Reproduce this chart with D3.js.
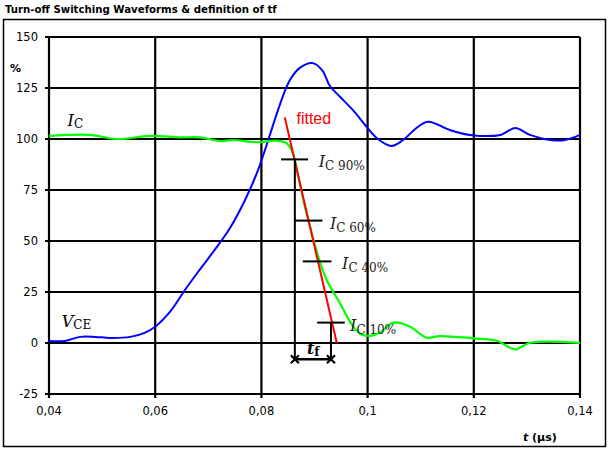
<!DOCTYPE html>
<html>
<head>
<meta charset="utf-8">
<script src="https://cdn.jsdelivr.net/npm/d3@7"></script>
<style>
  body { margin: 0; background: #fff; }
  svg text { font-family: "DejaVu Sans", Verdana, sans-serif; }
  .serif { font-family: "DejaVu Serif", "Liberation Serif", serif; }
</style>
</head>
<body>
<div id="chart"></div>
<script>
// values (t in µs, value in %)
var vceT = [0.040, 0.043, 0.0458, 0.0487, 0.0515, 0.0553, 0.058, 0.060, 0.063, 0.0656, 0.0684, 0.0713, 0.074, 0.0769,
            0.0794, 0.0816, 0.0835, 0.0854, 0.0873, 0.0897, 0.0915, 0.0929, 0.0948, 0.0973, 0.0998, 0.1017, 0.1045,
            0.1067, 0.1092, 0.1114, 0.1155, 0.1193, 0.125, 0.1278, 0.1306, 0.1344, 0.1372, 0.140],
    vceV = [1, 1, 3, 3, 2.5, 3, 5, 8, 16, 26, 36, 46, 56, 70,
            85, 102, 117, 129, 135, 137.2, 133.5, 126, 120.7, 114, 106, 100.5, 96.6,
            99.5, 105.4, 108.5, 104.4, 102, 102, 105.4, 102, 99.5, 99.5, 102],
    icT = [0.040, 0.0477, 0.0527, 0.059, 0.0647, 0.0684, 0.0722, 0.0747, 0.0791, 0.0829, 0.0848, 0.0857, 0.0863,
           0.0879, 0.0895, 0.0907, 0.0923, 0.0948, 0.0967, 0.0986, 0.1005, 0.1023, 0.1049, 0.108, 0.1111, 0.1136,
           0.1199, 0.1243, 0.1278, 0.1306, 0.140],
    icV = [101.5, 102, 100, 101.5, 100.8, 100.8, 99, 99.5, 98.4, 99.2, 97.9, 94.6, 89.7,
           70, 53.8, 42.3, 30.9, 19.5, 10.4, 4.5, 3.5, 5, 10, 8, 2.6, 3.4,
           2.3, 1.1, -3.1, 0.1, 0],
    fitT = [0.0844, 0.0942],
    fitV = [110.6, 0],
    markLevels = [90, 60, 40, 10],
    markStart = [0.0837, 0.0863, 0.0878, 0.0905],
    markEnd = [0.0888, 0.0915, 0.0932, 0.0957],
    markLabelT = [0.0908, 0.0929, 0.0952, 0.0967],
    tfStart = 0.0863, tfEnd = 0.0931, tfLevel = -8,
    xTicks = [0.04, 0.06, 0.08, 0.10, 0.12, 0.14],
    yTicks = [-25, 0, 25, 50, 75, 100, 125, 150];

var W = 608, H = 450,
    margin = { top: 37, right: 28, bottom: 56, left: 49 },
    width = W - margin.left - margin.right,
    height = H - margin.top - margin.bottom;

var svg = d3.select("#chart").append("svg")
    .attr("width", W)
    .attr("height", H);

svg.append("rect")
    .attr("x", 3.5).attr("y", 19.5)
    .attr("width", 602).attr("height", 427)
    .attr("fill", "none").attr("stroke", "#000").attr("stroke-width", 1.5);

svg.append("text")
    .attr("x", 5).attr("y", 12.5)
    .style("font-size", "10.2px").style("font-weight", "bold")
    .text("Turn-off Switching Waveforms & definition of tf");

var g = svg.append("g")
    .attr("transform", "translate(" + margin.left + "," + margin.top + ")");

var x = d3.scaleLinear().domain([0.04, 0.14]).range([0, width]),
    y = d3.scaleLinear().domain([-25, 150]).range([height, 0]);

var comma = d3.formatLocale({ decimal: ",", thousands: ".", grouping: [3], currency: ["", ""] }).format("~g");

// grid
g.selectAll(".hgrid").data(yTicks).enter().append("line")
    .attr("x1", -4).attr("x2", width)
    .attr("y1", function(d) { return y(d); }).attr("y2", function(d) { return y(d); })
    .attr("stroke", "#000").attr("stroke-width", 2.2);

g.selectAll(".vgrid").data(xTicks).enter().append("line")
    .attr("y1", 0).attr("y2", height + 4)
    .attr("x1", function(d) { return x(d); }).attr("x2", function(d) { return x(d); })
    .attr("stroke", "#000").attr("stroke-width", 2.2);

g.selectAll(".ylab").data(yTicks).enter().append("text")
    .attr("x", -11).attr("y", function(d) { return y(d); })
    .attr("dy", "0.36em")
    .style("text-anchor", "end").style("font-size", "11.5px")
    .text(function(d) { return d; });

g.selectAll(".xlab").data(xTicks).enter().append("text")
    .attr("x", function(d) { return x(d); }).attr("y", height + 21)
    .style("text-anchor", "middle").style("font-size", "11.5px")
    .text(function(d) { return comma(d); });

svg.append("text")
    .attr("x", 10).attr("y", 72)
    .style("font-size", "11px").style("font-weight", "bold")
    .text("%");

var xl = svg.append("text")
    .attr("x", 523).attr("y", 441)
    .style("font-size", "11px").style("font-weight", "bold");
xl.append("tspan").style("font-style", "italic").text("t");
xl.append("tspan").text(" (µs)");

// curves
var line = d3.line()
    .x(function(d) { return x(d[0]); })
    .y(function(d) { return y(d[1]); })
    .curve(d3.curveCatmullRom.alpha(0.5));

g.append("path")
    .datum(d3.zip(vceT, vceV))
    .attr("d", line)
    .attr("fill", "none").attr("stroke", "#0000ff").attr("stroke-width", 2);

g.append("path")
    .datum(d3.zip(icT, icV))
    .attr("d", line)
    .attr("fill", "none").attr("stroke", "#00ff00").attr("stroke-width", 2.2);

g.append("line")
    .attr("x1", x(fitT[0])).attr("y1", y(fitV[0]))
    .attr("x2", x(fitT[1])).attr("y2", y(fitV[1]))
    .attr("stroke", "#ff0000").attr("stroke-width", 2);

g.append("text")
    .attr("x", x(0.0866)).attr("y", y(107.5))
    .style("font-family", "'Liberation Sans', Arial, sans-serif")
    .style("font-size", "16px").attr("fill", "#ff0000")
    .text("fitted");

// level markers
g.selectAll(".mark").data(markLevels).enter().append("line")
    .attr("x1", function(d, i) { return x(markStart[i]); })
    .attr("x2", function(d, i) { return x(markEnd[i]); })
    .attr("y1", function(d) { return y(d); }).attr("y2", function(d) { return y(d); })
    .attr("stroke", "#000").attr("stroke-width", 2);

var ml = g.selectAll(".mlab").data(markLevels).enter().append("text")
    .attr("class", "serif")
    .attr("x", function(d, i) { return x(markLabelT[i]); })
    .attr("y", function(d) { return y(d) + 8; })
    .attr("fill", "#222");
ml.append("tspan").style("font-style", "italic").style("font-size", "16px").text("I");
ml.append("tspan").attr("dy", 3).style("font-size", "12px")
    .text(function(d) { return "C " + d + "%"; });

// tf construction
[tfStart, tfEnd].forEach(function(t, i) {
    g.append("line")
        .attr("x1", x(t)).attr("x2", x(t))
        .attr("y1", y(i === 0 ? markLevels[0] : markLevels[3])).attr("y2", y(tfLevel))
        .attr("stroke", "#000").attr("stroke-width", 2);
    var cx = x(t), cy = y(tfLevel), s = 4;
    g.append("path")
        .attr("d", "M" + (cx - s) + "," + (cy - s) + "L" + (cx + s) + "," + (cy + s) +
                   "M" + (cx - s) + "," + (cy + s) + "L" + (cx + s) + "," + (cy - s))
        .attr("stroke", "#000").attr("stroke-width", 2.2);
});
g.append("line")
    .attr("x1", x(tfStart)).attr("x2", x(tfEnd))
    .attr("y1", y(tfLevel)).attr("y2", y(tfLevel))
    .attr("stroke", "#000").attr("stroke-width", 2.5);

var tf = g.append("text")
    .attr("class", "serif")
    .attr("x", x((tfStart + tfEnd) / 2) - 6).attr("y", y(tfLevel) - 5)
    .style("font-weight", "bold");
tf.append("tspan").style("font-style", "italic").style("font-size", "16px").text("t");
tf.append("tspan").attr("dy", 2).style("font-size", "12px").text("f");

// curve labels
var lic = g.append("text").attr("class", "serif")
    .attr("x", x(0.0435)).attr("y", y(106.5));
lic.append("tspan").style("font-style", "italic").style("font-size", "16px").text("I");
lic.append("tspan").attr("dy", 2).style("font-size", "12px").text("C");

var lv = g.append("text").attr("class", "serif")
    .attr("x", x(0.0424)).attr("y", y(8));
lv.append("tspan").style("font-style", "italic").style("font-size", "16px").text("V");
lv.append("tspan").attr("dy", 2).style("font-size", "12px").text("CE");
</script>
</body>
</html>
